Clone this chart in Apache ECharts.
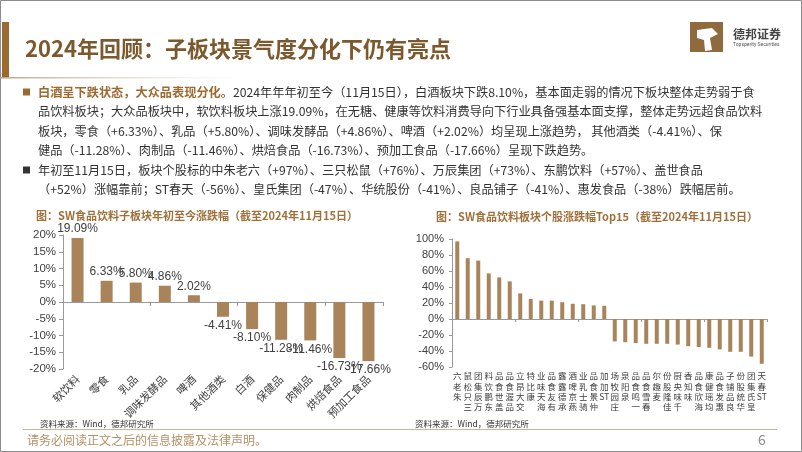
<!DOCTYPE html>
<html><head><meta charset="utf-8">
<script src="https://cdn.jsdelivr.net/npm/echarts@6/dist/echarts.min.js"></script>
<style>html,body{margin:0;padding:0;background:#fff}#c{width:802px;height:452px}</style>
</head><body><div id="c"></div>
<script>
// ---- data ----
const sectorNames = ['软饮料','零食','乳品','调味发酵品','啤酒','其他酒类','白酒','保健品','肉制品','烘焙食品','预加工食品'];
const sectorValues = [19.09,6.33,5.80,4.86,2.02,-4.41,-8.10,-11.28,-11.46,-16.73,-17.66];
const sectorTicks = [-20,-15,-10,-5,0,5,10,15,20];
const stockNames = ['朱老六','三只松鼠','万辰集团','东鹏饮料','盖世食品','品渥食品','交大昂立','康比特','海天味业','有友食品','承德露露','燕京啤酒','骑士乳业','仲景食品','ST加加',
  '庄园牧场','泉阳泉','一鸣食品','春雪食品','麦趣尔','佳隆股份','千味央厨','味知香','海欣食品','均瑶健康','惠发食品','良品铺子','华统股份','皇氏集团','ST春天'];
const stockValues = [97,76,73,57,52,47,32,25,23,23,21,19,18.5,17,16.5,
  -28,-29,-30,-31,-31,-31,-32,-34,-35,-36,-38,-41,-41,-47,-56];
const stockTicks = [-60,-40,-20,0,20,40,60,80,100];

const titleText = '2024年回顾：子板块景气度分化下仍有亮点';
const chart1Title = '图：SW食品饮料子板块年初至今涨跌幅（截至2024年11月15日）';
const chart2Title = '图：SW食品饮料板块个股涨跌幅Top15（截至2024年11月15日）';
const sourceText = '资料来源：Wind，德邦研究所';
const footerText = '请务必阅读正文之后的信息披露及法律声明。';
const bodyLines = [
  ['白酒呈下跌状态，大众品表现分化。','2024年年年初至今（11月15日），白酒板块下跌8.10%，基本面走弱的情况下板块整体走势弱于食'],
  ['','品饮料板块；大众品板块中，软饮料板块上涨19.09%，在无糖、健康等饮料消费导向下行业具备强基本面支撑，整体走势远超食品饮料'],
  ['','板块，零食（+6.33%）、乳品（+5.80%）、调味发酵品（+4.86%）、啤酒（+2.02%）均呈现上涨趋势， 其他酒类（-4.41%）、保'],
  ['','健品（-11.28%）、肉制品（-11.46%）、烘焙食品（-16.73%）、预加工食品（-17.66%）呈现下跌趋势。'],
  ['','年初至11月15日，板块个股标的中朱老六（+97%）、三只松鼠（+76%）、万辰集团（+73%）、东鹏饮料（+57%）、盖世食品'],
  ['','（+52%）涨幅靠前；ST春天（-56%）、皇氏集团（-47%）、华统股份（-41%）、良品铺子（-41%）、惠发食品（-38%）跌幅居前。']
];

const FONT = '"Noto Sans CJK SC","Noto Sans",sans-serif';
const BROWN = '#A9845A';
const chart = echarts.init(document.getElementById('c'), null, {renderer:'canvas'});

function vertLabel(name){
  const toks = [];
  let s = name;
  if (s.startsWith('ST')) { toks.push('ST'); s = s.slice(2); }
  for (const ch of s) toks.push(ch);
  return toks.reverse().join('\n');
}

const graphics = [
  {type:'rect', shape:{x:0.5,y:0.5,width:801,height:451}, style:{fill:'none',stroke:'#8c8c8c',lineWidth:1}, silent:true},
  {type:'rect', shape:{x:2,y:22,width:7,height:56}, style:{fill:'#9C6A30'}},
  {type:'rect', shape:{x:0,y:77,width:240,height:1.5}, style:{fill:new echarts.graphic.LinearGradient(0,0,1,0,[{offset:0,color:'#b9a78c'},{offset:1,color:'rgba(220,210,195,0)'}])}},
  {type:'text', style:{text:titleText, x:25, y:49, fontSize:22, fontWeight:'bold', fontFamily:FONT, fill:'#7D582D', verticalAlign:'middle'}},
  // logo
  {type:'rect', shape:{x:690,y:22,width:33,height:30}, style:{fill:'#8E6A3E'}},
  {type:'polygon', shape:{points:[[697,30],[712,28],[718,34],[710,38],[712,50],[705,51],[704,40],[697,38]]}, style:{fill:'#ffffff'}},
  {type:'text', style:{text:'德邦证券', x:733, y:34, fontSize:12, fontWeight:'bold', fontFamily:FONT, fill:'#444', verticalAlign:'middle'}},
  {type:'text', style:{text:'Topsperity Securities', x:733, y:45, fontSize:5, fontFamily:'Roboto', fill:'#555', verticalAlign:'middle'}},
  // bullets
  {type:'rect', shape:{x:23,y:88.5,width:7,height:7}, style:{fill:'#9C6A30'}},
  {type:'rect', shape:{x:23,y:166.5,width:7,height:7}, style:{fill:'#333'}},
  // chart titles
  {type:'text', style:{text:chart1Title, x:197, y:216, fontSize:11, fontWeight:'bold', fontFamily:FONT, fill:'#A0703A', align:'center', verticalAlign:'middle'}},
  {type:'text', style:{text:chart2Title, x:597, y:217, fontSize:11, fontWeight:'bold', fontFamily:FONT, fill:'#A0703A', align:'center', verticalAlign:'middle'}},
  {type:'text', style:{text:sourceText, x:40, y:424, fontSize:8.5, fontFamily:FONT, fill:'#333', verticalAlign:'middle'}},
  {type:'text', style:{text:sourceText, x:415, y:424, fontSize:8.5, fontFamily:FONT, fill:'#333', verticalAlign:'middle'}},
  {type:'rect', shape:{x:23,y:429,width:754,height:1}, style:{fill:'#C8B79E'}},
  {type:'text', style:{text:footerText, x:27, y:440, fontSize:12, fontFamily:FONT, fill:'#B39067', verticalAlign:'middle'}},
  {type:'text', style:{text:'6', x:758, y:440, fontSize:14, fontFamily:FONT, fill:'#8a8a8a', verticalAlign:'middle'}}
];
const lineYs = [92,111.5,131,150.5,170,189.5];
bodyLines.forEach((ln,i)=>{
  const t = (ln[0] ? '{b|'+ln[0]+'}' : '') + '{n|'+ln[1]+'}';
  graphics.push({type:'text', style:{text:t, x:38, y:lineYs[i], verticalAlign:'middle',
    rich:{b:{fontSize:12.2,fontWeight:'bold',fontFamily:FONT,fill:'#9C6A30',color:'#9C6A30'}, n:{fontSize:12.2,fontFamily:FONT,fill:'#333',color:'#333'}}}});
});

const axisLabelStyle = {color:'#404040', fontFamily:'Arial, "Liberation Sans", sans-serif'};

chart.setOption({
  animation:false,
  textStyle:{fontFamily:FONT},
  grid:[
    {left:63, top:235, width:320, height:134},
    {left:452, top:239, width:315, height:128}
  ],
  xAxis:[
    {type:'category', gridIndex:0, data:sectorNames, position:'bottom', axisLine:{onZero:true, lineStyle:{color:'#9a9a9a'}}, axisTick:{show:true, length:4, lineStyle:{color:'#9a9a9a'}}, axisLabel:{show:false}},
    {type:'category', gridIndex:0, data:sectorNames, position:'bottom', axisLine:{show:false, onZero:false}, axisTick:{show:false}, axisLabel:{interval:0, rotate:45, margin:8, fontSize:11, color:'#404040', fontFamily:FONT}},
    {type:'category', gridIndex:1, data:stockNames, position:'bottom', axisLine:{onZero:true, lineStyle:{color:'#9a9a9a'}}, axisTick:{show:true, length:3, lineStyle:{color:'#9a9a9a'}}, axisLabel:{show:false}},
    {type:'category', gridIndex:1, data:stockNames, position:'bottom', axisLine:{show:false, onZero:false}, axisTick:{show:false}, axisLabel:{interval:0, margin:4, fontSize:8.5, lineHeight:10.3, color:'#404040', fontFamily:FONT, verticalAlign:'top', formatter:vertLabel}}
  ],
  yAxis:[
    {type:'value', gridIndex:0, min:sectorTicks[0], max:sectorTicks[sectorTicks.length-1], interval:5, splitLine:{show:false},
      axisLine:{show:true, lineStyle:{color:'#9a9a9a'}}, axisTick:{show:true, length:4, lineStyle:{color:'#9a9a9a'}},
      axisLabel:Object.assign({fontSize:11.5, margin:7, formatter:'{value}%'}, axisLabelStyle)},
    {type:'value', gridIndex:1, min:stockTicks[0], max:stockTicks[stockTicks.length-1], interval:20, splitLine:{show:false},
      axisLine:{show:true, lineStyle:{color:'#9a9a9a'}}, axisTick:{show:true, length:3, lineStyle:{color:'#9a9a9a'}},
      axisLabel:Object.assign({fontSize:11, margin:8, formatter:'{value}%'}, axisLabelStyle)}
  ],
  series:[
    {type:'bar', xAxisIndex:0, yAxisIndex:0, barWidth:12, itemStyle:{color:BROWN},
      data:sectorValues.map(v=>({value:v, label:{position: v>=0?'top':'bottom'}})),
      label:{show:true, fontSize:12, color:'#404040', fontFamily:'Arial, "Liberation Sans", sans-serif', distance:3, formatter:p=>p.value.toFixed(2)+'%'}},
    {type:'bar', xAxisIndex:2, yAxisIndex:1, barWidth:4, itemStyle:{color:BROWN}, data:stockValues}
  ],
  graphic:graphics
});
</script></body></html>
